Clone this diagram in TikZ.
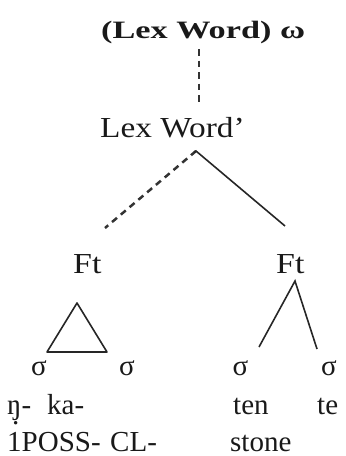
\documentclass[tikz,border=0pt]{standalone}
\usepackage{fontspec}
\setmainfont{Liberation Serif}
\newcommand{\engdot}{\ooalign{ŋ\cr\hskip0.17em\raisebox{-0.36em}{.}\cr}}
\begin{document}
\begin{tikzpicture}[x=1pt,y=-1pt,
  txt/.style={inner sep=0pt,text=black!90,font=\fontsize{29}{34}\selectfont},
  lbl/.style={txt,anchor=base west},
  syl/.style={txt,anchor=base},
  solidedge/.style={line width=1.6pt,draw=black!85},
  dashedge/.style={line width=2.5pt,draw=black!80,dash pattern=on 6.5pt off 5pt}]
\useasboundingbox (0,0) rectangle (346,456);
% texts
\node[lbl,font=\fontsize{25}{30}\selectfont\bfseries] (omega) at (101,38.5) {\scalebox{1.37}[1]{(Lex Word) ω}};
\node[lbl] (lexw) at (100,137) {\scalebox{1.15}[1]{Lex Word’}};
\node[lbl] (ftl) at (73,273) {\scalebox{1.17}[1]{Ft}};
\node[lbl] (ftr) at (276,273) {\scalebox{1.17}[1]{Ft}};
\node[syl] (s1) at (39,375) {σ};
\node[syl] (s2) at (127,375) {σ};
\node[syl] (s3) at (240.5,375) {σ};
\node[syl] (s4) at (329,375) {σ};
\node[lbl] (g1) at (7,414) {\engdot-};
\node[lbl] (g2) at (47,414) {ka-};
\node[lbl] (g3) at (233,414) {ten};
\node[lbl] (g4) at (317,414) {te};
\node[lbl] (h1) at (7,451) {1POSS-};
\node[lbl] (h2) at (110,451) {CL-};
\node[lbl] (h3) at (230,451) {stone};
% connector end points
\coordinate (omegaFoot) at (199,49);
\coordinate (lexwHead) at (199,102);
\coordinate (lexwFoot) at (196,151);
\coordinate (ftlHead) at (105,228);
\coordinate (ftrHead) at (285,226);
\coordinate (triTop) at (77,303);
\coordinate (triL) at (47,352);
\coordinate (triR) at (107,352);
\coordinate (ftrFoot) at (295,281);
\coordinate (s3Head) at (259,347);
\coordinate (s4Head) at (317,349);
% connectors
\draw[dashedge] (omegaFoot) -- (lexwHead);
\draw[dashedge] (lexwFoot) -- (ftlHead);
\draw[solidedge,line join=miter] (ftrHead) -- (lexwFoot) -- ++(-2,1.5);
\draw[solidedge,line join=round] (triTop) -- (triR) -- (triL) -- cycle;
\draw[solidedge] (s3Head) -- (ftrFoot) -- (s4Head);
\end{tikzpicture}
\end{document}
